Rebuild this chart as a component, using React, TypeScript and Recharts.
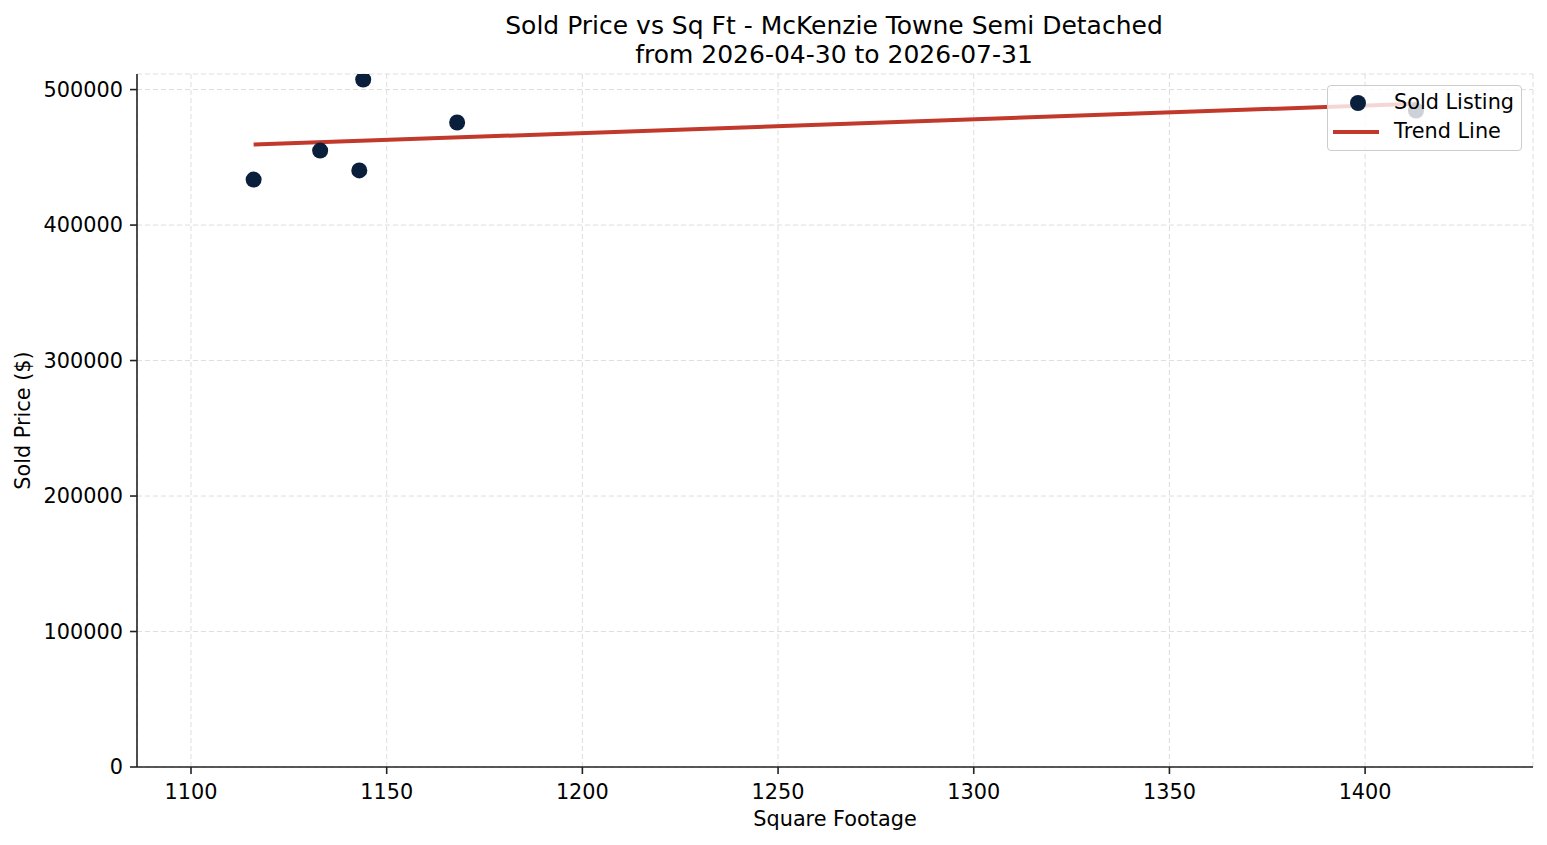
import { ScatterChart, Scatter, XAxis, YAxis, CartesianGrid, Legend } from 'recharts';

// sold listings
const soldSqft = [1116, 1133, 1143, 1144, 1168, 1413];
const soldPrice = [433600, 455000, 440300, 507400, 475700, 484500];

// fitted trend line end points
const trendSqft = [1116, 1413];
const trendPrice = [459400, 489500];

const xTicks = [1100, 1150, 1200, 1250, 1300, 1350, 1400];
const yTicks = [0, 100000, 200000, 300000, 400000, 500000];

const NAVY = '#0a1f3c';
const RED = '#c0392b';
const FONT = '"DejaVu Sans", sans-serif';

const soldData = soldSqft.map((x, i) => ({ x, y: soldPrice[i] }));
const trendData = trendSqft.map((x, i) => ({ x, y: trendPrice[i] }));

const Dot = (props: any) => <circle cx={props.cx} cy={props.cy} r={8} fill={NAVY} />;

const LegendBox = () => (
  <div
    style={{
      width: 193,
      height: 64,
      background: 'rgba(255,255,255,0.8)',
      border: '1px solid #cccccc',
      borderRadius: 4,
      position: 'relative',
      fontSize: 20.8,
      color: '#000',
    }}
  >
    <svg width={193} height={64} style={{ position: 'absolute', left: 0, top: 0 }}>
      <circle cx={30} cy={17} r={8} fill={NAVY} />
      <line x1={5} x2={51} y1={46} y2={46} stroke={RED} strokeWidth={4} />
    </svg>
    <div style={{ position: 'absolute', left: 66, top: 2, lineHeight: '28px' }}>Sold Listing</div>
    <div style={{ position: 'absolute', left: 66, top: 31, lineHeight: '28px' }}>Trend Line</div>
  </div>
);

export default function App() {
  return (
    <div
      style={{
        position: 'absolute',
        left: 0,
        top: 0,
        width: 1547,
        height: 845,
        background: '#fff',
        fontFamily: FONT,
      }}
    >
      <div
        style={{
          position: 'absolute',
          left: 0,
          width: 1668,
          top: 12,
          textAlign: 'center',
          fontSize: 25,
          lineHeight: '28.5px',
          color: '#000',
        }}
      >
        Sold Price vs Sq Ft - McKenzie Towne Semi Detached
        <br />
        from 2026-04-30 to 2026-07-31
      </div>
      <ScatterChart width={1547} height={845} margin={{ top: 74, right: 14, bottom: 28, left: 0 }}>
        <CartesianGrid stroke="#d4d4d4" strokeDasharray="5 3" strokeWidth={0.8} />
        <XAxis
          type="number"
          dataKey="x"
          domain={[1086.2, 1442.9]}
          ticks={xTicks}
          allowDataOverflow
          height={50}
          tickSize={7}
          tickMargin={10}
          tick={{ fill: '#000', fontSize: 20.8 }}
          tickLine={{ stroke: '#222', strokeWidth: 1.6 }}
          axisLine={{ stroke: '#222', strokeWidth: 1.6 }}
          label={{
            content: (p: any) => (
              <text
                x={p.viewBox.x + p.viewBox.width / 2}
                y={p.viewBox.y + 52}
                textAnchor="middle"
                dominantBaseline="central"
                fontSize={20.8}
                fill="#000"
              >
                Square Footage
              </text>
            ),
          }}
        />
        <YAxis
          type="number"
          dataKey="y"
          domain={[0, 511500]}
          ticks={yTicks}
          allowDataOverflow
          width={137}
          tickSize={7}
          tickMargin={7}
          tick={{ fill: '#000', fontSize: 20.8 }}
          tickLine={{ stroke: '#222', strokeWidth: 1.6 }}
          axisLine={{ stroke: '#222', strokeWidth: 1.6 }}
          label={{
            content: (p: any) => {
              const cx = p.viewBox.x + 23;
              const cy = p.viewBox.y + p.viewBox.height / 2;
              return (
                <text
                  x={cx}
                  y={cy}
                  transform={`rotate(-90 ${cx} ${cy})`}
                  textAnchor="middle"
                  dominantBaseline="central"
                  fontSize={20.8}
                  fill="#000"
                >
                  Sold Price ($)
                </text>
              );
            },
          }}
        />
        <Scatter
          name="Trend Line"
          data={trendData}
          line={{ stroke: RED, strokeWidth: 4 }}
          shape={() => <g />}
          isAnimationActive={false}
        />
        <Scatter name="Sold Listing" data={soldData} shape={Dot} isAnimationActive={false} />
        <Legend
          layout="vertical"
          align="center"
          verticalAlign="middle"
          content={() => <LegendBox />}
          wrapperStyle={{ position: 'absolute', left: 1327, top: 85, width: 195, height: 66 }}
        />
      </ScatterChart>
    </div>
  );
}
